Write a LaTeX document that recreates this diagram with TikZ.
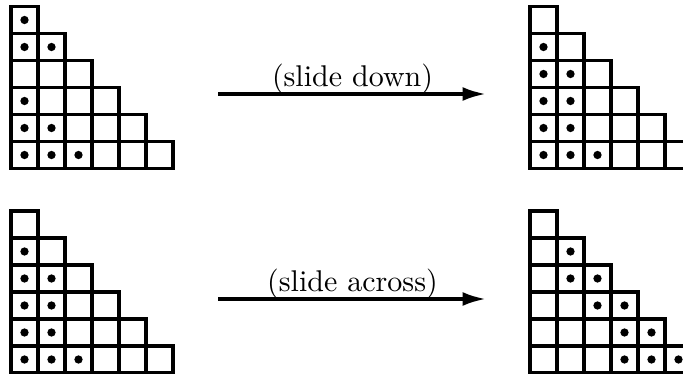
\documentclass[tikz,border=0pt]{standalone}
\usepackage{tikz}
\usetikzlibrary{arrows.meta}

% one staircase of boxes, top left corner at (#1,#2)
\newcommand{\drawstair}[2]{%
  \foreach \r in {1,...,6}
    \foreach \k in {1,...,\r}
      \draw[cell] ({#1+(\k-1)*27},{#2+(\r-1)*27}) rectangle ++(27,27);}
% dots, given as column/row pairs
\newcommand{\stairdots}[3]{%
  \foreach \k/\r in {#3}
    \fill ({#1+(\k-0.5)*27},{#2+(\r-0.5)*27}) circle[radius=1.45pt];}

\begin{document}
\begin{tikzpicture}[x=0.35pt,y=-0.35pt,
  cell/.style={line width=1.15pt},
  slide/.style={line width=1.5pt,-{Latex[length=8.5pt,width=4.8pt]}},
  lbl/.style={midway,above,inner sep=0pt,yshift=-0.9pt},
  font=\fontsize{10.5}{12}\selectfont]
  \useasboundingbox (0,0) rectangle (683,374);
  \clip (0,0) rectangle (683,374);

  % slide down
  \drawstair{11}{6.5}
  \stairdots{11}{6.5}{1/1,1/2,2/2,1/4,1/5,2/5,1/6,2/6,3/6}
  \drawstair{530}{6.5}
  \stairdots{530}{6.5}{1/2,1/3,2/3,1/4,2/4,1/5,2/5,1/6,2/6,3/6}
  \coordinate (d1) at (218,94);
  \coordinate (d2) at (487,94);
  \draw[slide] (d1) -- (d2) node[lbl] (dl) {(slide down)};

  % slide across
  \drawstair{11}{211}
  \stairdots{11}{211}{1/2,1/3,2/3,1/4,2/4,1/5,2/5,1/6,2/6,3/6}
  \drawstair{530}{211}
  \stairdots{530}{211}{2/2,2/3,3/3,3/4,4/4,4/5,5/5,4/6,5/6,6/6}
  \coordinate (a1) at (218,299);
  \coordinate (a2) at (487,299);
  \draw[slide] (a1) -- (a2) node[lbl] (al) {(slide across)};
\end{tikzpicture}
\end{document}
